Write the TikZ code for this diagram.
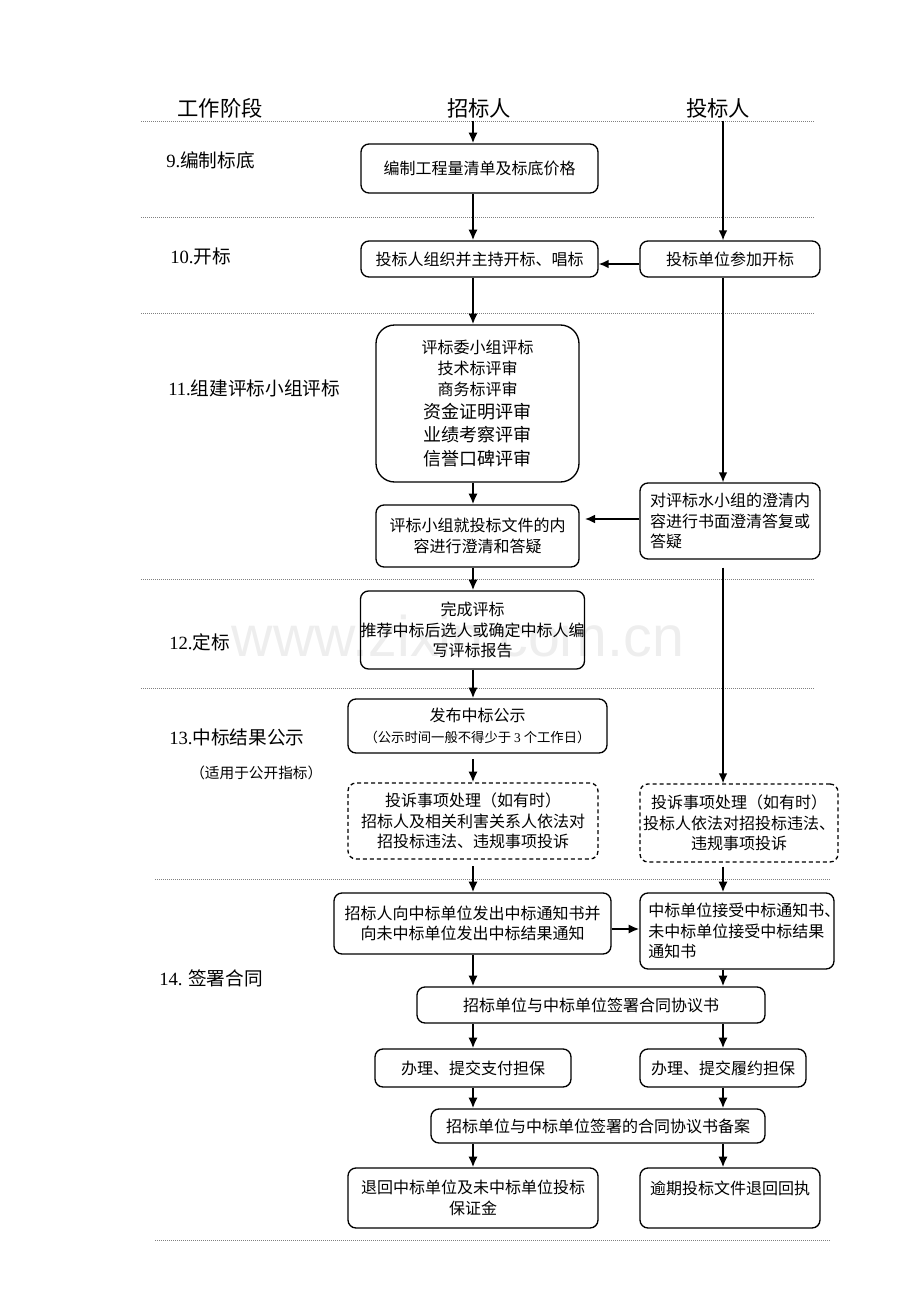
\documentclass[tikz,border=0pt]{standalone}
\usepackage{fontspec}
\setmainfont{Noto Sans CJK SC}
\newfontfamily\lat{Liberation Serif}
\newfontfamily\wmfont{Liberation Sans}
\usetikzlibrary{arrows.meta}
\newcommand\mybox[7]{\node[#1, minimum width={(#4-#2)*0.75pt}, minimum height={(#5-#3)*0.75pt}] (#6) at ({(#2+#4)/2},{(#3+#5)/2}) {#7};}
\begin{document}
\begin{tikzpicture}[x=0.75pt,y=-0.75pt,
  bx/.style={draw, line width=1pt, rounded corners=6pt, inner sep=0pt, align=center, font=\fontsize{12}{15.5}\selectfont},
  dbx/.style={bx, dash pattern=on 3pt off 2.2pt},
  sep/.style={gray, line width=0.6pt, dash pattern=on 0.6pt off 0.9pt},
  thk/.style={line width=2.2pt, -{Latex[length=8pt,width=7pt]}},
  thn/.style={line width=1.1pt, -{Latex[length=7.5pt,width=6.5pt]}},
  stage/.style={anchor=west, inner sep=0pt, font=\fontsize{14}{16}\selectfont},
  hdr/.style={inner sep=0pt, font=\fontsize{16}{18}\selectfont}]
\useasboundingbox (0,0) rectangle (920,1302);
% watermark
\node[text=gray!13, font=\wmfont\fontsize{43}{43}\selectfont, inner sep=0pt] (wm) at (458,636) {www.zixin.com.cn};
% headers
\node[hdr] (h0) at (220,108) {工作阶段};
\node[hdr] (h1) at (479,108) {招标人};
\node[hdr] (h2) at (718,108) {投标人};
% separators
\draw[sep] (141,121) -- (814,121);
\draw[sep] (141,217) -- (814,217);
\draw[sep] (141,313) -- (814,313);
\draw[sep] (141,579) -- (814,579);
\draw[sep] (141,688) -- (814,688);
\draw[sep] (155,879) -- (830,879);
\draw[sep] (155,1240) -- (830,1240);
% stage labels
\node[stage] (s9) at (166,160) {{\lat 9.}编制标底};
\node[stage] (s10) at (170,256) {{\lat 10.}开标};
\node[stage] (s11) at (168,388) {{\lat 11.}组建评标小组评标};
\node[stage] (s12) at (169,642) {{\lat 12.}定标};
\node[stage] (s13) at (169,737) {{\lat 13.}中标结果公示};
\node[stage, font=\fontsize{11}{13}\selectfont] (s13b) at (190,773) {（适用于公开指标）};
\node[stage] (s14) at (159,978) {{\lat 14.} 签署合同};
% left column boxes
\mybox{bx}{361}{144}{598}{193}{b1}{编制工程量清单及标底价格}
\mybox{bx}{361}{241}{598}{277}{b2}{投标人组织并主持开标、唱标}
\mybox{bx, rounded corners=14pt}{376}{325}{579}{482}{b3}{评标委小组评标\\技术标评审\\商务标评审\\[2pt]{\fontsize{13.5}{18}\selectfont 资金证明评审}\\[2pt]{\fontsize{13.5}{18}\selectfont 业绩考察评审}\\[2pt]{\fontsize{13.5}{18}\selectfont 信誉口碑评审}}
\mybox{bx}{376}{505}{579}{567}{b4}{评标小组就投标文件的内\\容进行澄清和答疑}
\mybox{bx}{361}{591}{584}{669}{b5}{完成评标\\推荐中标后选人或确定中标人编\\写评标报告}
\mybox{bx}{348}{699}{607}{753}{b6}{发布中标公示\\{\fontsize{10}{12}\selectfont （公示时间一般不得少于 {\lat 3} 个工作日）}}
\mybox{dbx}{348}{783}{598}{859}{b7}{投诉事项处理（如有时）\\招标人及相关利害关系人依法对\\招投标违法、违规事项投诉}
\mybox{bx}{334}{893}{611}{954}{b8}{招标人向中标单位发出中标通知书并\\向未中标单位发出中标结果通知}
\mybox{bx}{417}{987}{765}{1023}{b9}{招标单位与中标单位签署合同协议书}
\mybox{bx}{375}{1049}{571}{1087}{b10}{办理、提交支付担保}
\mybox{bx}{431}{1109}{765}{1143}{b11}{招标单位与中标单位签署的合同协议书备案}
\mybox{bx}{348}{1168}{598}{1228}{b12}{退回中标单位及未中标单位投标\\保证金}
% right column boxes
\mybox{bx}{640}{241}{820}{277}{r1}{投标单位参加开标}
\mybox{bx, align=left}{640}{483}{820}{559}{r2}{对评标水小组的澄清内\\容进行书面澄清答复或\\答疑}
\mybox{dbx}{640}{784}{838}{862}{r3}{投诉事项处理（如有时）\\投标人依法对招投标违法、\\违规事项投诉}
\mybox{bx, align=left, text width=133pt}{640}{893}{834}{969}{r4}{中标单位接受中标通知书、\\未中标单位接受中标结果\\通知书}
\mybox{bx}{640}{1049}{806}{1087}{r5}{办理、提交履约担保}
\mybox{bx}{640}{1168}{820}{1228}{r6}{逾期投标文件退回回执\\~}
% column guides
\coordinate (L) at (473,0);
\coordinate (R) at (723,0);
\coordinate (t0) at (473,121);
\coordinate (t1) at (723,121);
\coordinate (ya) at (0,264);
\coordinate (yb) at (0,519);
\coordinate (yc) at (0,929);
% connectors
\draw[thk] (t0) -- (b1.north -| L);
\draw[thk] (b1.south -| L) -- (b2.north -| L);
\draw[thn] (t1) -- (r1.north -| R);
\draw[thn] (r1.west |- ya) -- (b2.east |- ya);
\draw[thk] (b2.south -| L) -- (b3.north -| L);
\draw[thn] (r1.south -| R) -- (r2.north -| R);
\draw[thk] (b3.south -| L) -- (b4.north -| L);
\draw[thn, shorten >=4pt] (r2.west |- yb) -- (b4.east |- yb);
\draw[thk] (b4.south -| L) -- (b5.north -| L);
\draw[thk] (b5.south -| L) -- (b6.north -| L);
\draw[thk, shorten <=4pt] (b6.south -| L) -- (b7.north -| L);
\draw[thn, shorten <=6pt] (r2.south -| R) -- (r3.north -| R);
\draw[thk, shorten <=5pt] (b7.south -| L) -- (b8.north -| L);
\draw[thk, shorten <=3pt] (r3.south -| R) -- (r4.north -| R);
\draw[thk, line width=1.6pt] (b8.east |- yc) -- (r4.west |- yc);
\draw[thk] (b8.south -| L) -- (b9.north -| L);
\draw[thk] (r4.south -| R) -- (b9.north -| R);
\draw[thk] (b9.south -| L) -- (b10.north -| L);
\draw[thk] (b9.south -| R) -- (r5.north -| R);
\draw[thk] (b10.south -| L) -- (b11.north -| L);
\draw[thk] (r5.south -| R) -- (b11.north -| R);
\draw[thk] (b11.south -| L) -- (b12.north -| L);
\draw[thk] (b11.south -| R) -- (r6.north -| R);
\end{tikzpicture}
\end{document}
